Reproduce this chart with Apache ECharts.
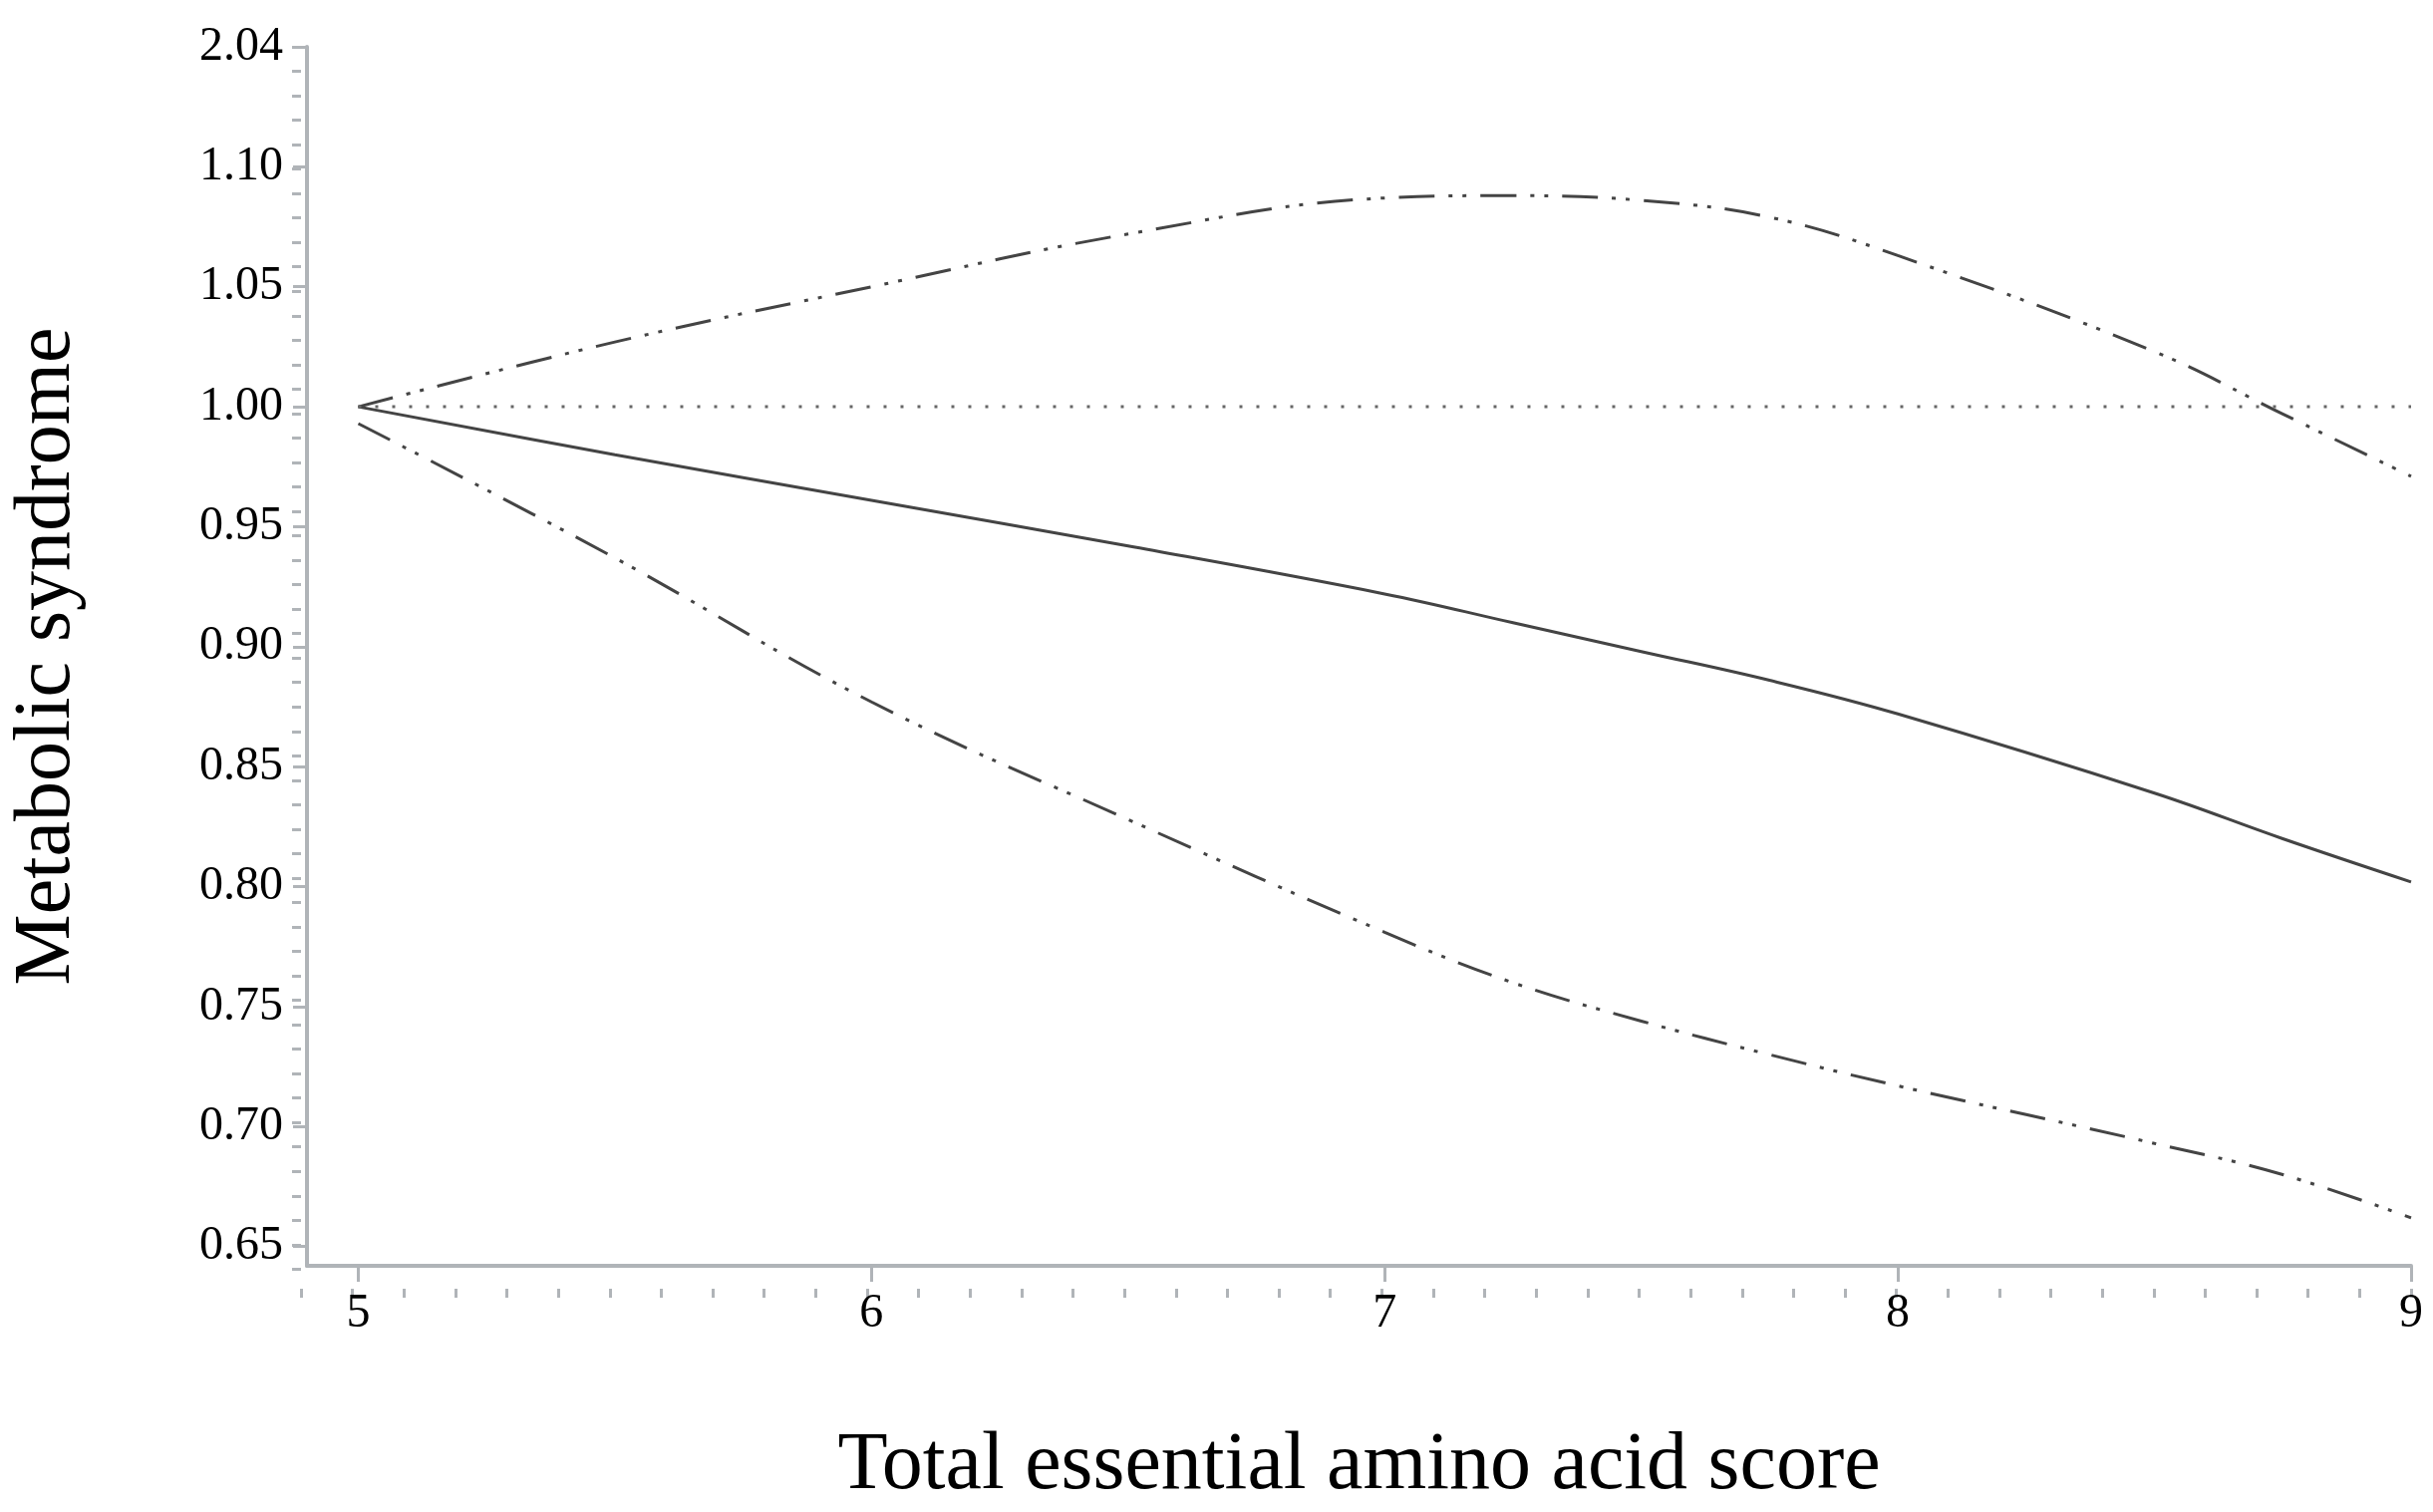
<!DOCTYPE html>
<html><head><meta charset="utf-8">
<script src="https://cdn.jsdelivr.net/npm/echarts@6/dist/echarts.min.js"></script>
<style>html,body{margin:0;padding:0;background:#fff}#c{width:2441px;height:1517px}</style>
</head><body><div id="c"></div>
<script>
// x values and series values (in units of 0.01 HR, i.e. 1.00 -> 100)
const xs = [5, 5.5, 6, 6.5, 7, 7.25, 7.5, 7.75, 8, 8.5, 8.75, 9];
const estimate = [100, 98.0, 96.1, 94.2, 92.2, 91.0, 89.8, 88.6, 87.2, 83.9, 82.0, 80.2];
const upper = [100, 102.7, 105.0, 107.2, 108.7, 108.8, 108.6, 107.9, 106.3, 102.3, 99.7, 97.1];
const lower = [99.3, 93.7, 87.7, 82.8, 78.1, 76.0, 74.4, 73.0, 71.7, 69.3, 68.0, 66.2];
const refLine = [[5, 100], [9, 100]];
const yTicks = [65, 70, 75, 80, 85, 90, 95, 100, 105, 110, 115];
const yTickLabels = ['0.65','0.70','0.75','0.80','0.85','0.90','0.95','1.00','1.05','1.10','2.04'];
const xTicks = [5, 6, 7, 8, 9];

const yMinor = []; for (let v = 65; v <= 115; v++) yMinor.push(v);
const xMinor = []; for (let v = 49; v <= 90; v++) xMinor.push(v / 10);
const pair = a => xs.map((x, i) => [x, a[i]]);
const font = 'Liberation Serif';
const gray = '#b0b4b8';
const dash = [36, 14, 4, 10, 4, 14];
const chart = echarts.init(document.getElementById('c'));
const grid = {left: 302, right: 22, top: 47, bottom: 224};
chart.setOption({
  animation: false,
  grid: [grid, grid],
  xAxis: [
    {type: 'value', min: 4.9, max: 9, gridIndex: 0,
     name: 'Total essential amino acid score', nameLocation: 'middle', nameGap: 160,
     nameTextStyle: {fontFamily: font, fontSize: 82, color: '#000'},
     axisLine: {lineStyle: {color: gray, width: 4}},
     axisTick: {customValues: xTicks, length: 16, lineStyle: {color: gray, width: 3}},
     axisLabel: {customValues: xTicks, fontFamily: font, fontSize: 48, color: '#000', margin: 24},
     splitLine: {show: false}},
    {type: 'value', min: 4.9, max: 9, gridIndex: 1,
     axisLine: {show: false},
     axisTick: {customValues: xMinor, length: 9, lineStyle: {color: gray, width: 3}},
     axisLabel: {show: false}, splitLine: {show: false}}
  ],
  yAxis: [
    {type: 'value', min: 64.2, max: 115, gridIndex: 0,
     name: 'Metabolic syndrome', nameLocation: 'middle', nameGap: 220,
     nameTextStyle: {fontFamily: font, fontSize: 80, color: '#000'},
     axisLine: {show: true, lineStyle: {color: gray, width: 4}},
     axisTick: {customValues: yTicks, length: 14, lineStyle: {color: gray, width: 3}},
     axisLabel: {customValues: yTicks, fontFamily: font, fontSize: 48, color: '#000', margin: 24,
       formatter: v => yTickLabels[yTicks.indexOf(Math.round(v))] || ''},
     splitLine: {show: false}},
    {type: 'value', min: 64.2, max: 115, gridIndex: 1,
     axisLine: {show: false},
     axisTick: {customValues: yMinor, length: 9, lineStyle: {color: gray, width: 3}},
     axisLabel: {show: false}, splitLine: {show: false}}
  ],
  series: [
    {type: 'line', data: pair(estimate), smooth: 0.4, symbol: 'none', lineStyle: {color: '#444', width: 3}},
    {type: 'line', data: pair(upper), smooth: 0.4, symbol: 'none', lineStyle: {color: '#444', width: 3, type: dash}},
    {type: 'line', data: pair(lower), smooth: 0.4, symbol: 'none', lineStyle: {color: '#444', width: 3, type: dash}},
    {type: 'line', data: refLine, symbol: 'none', lineStyle: {color: '#666', width: 3, type: [3, 14]}}
  ]
});
</script></body></html>
